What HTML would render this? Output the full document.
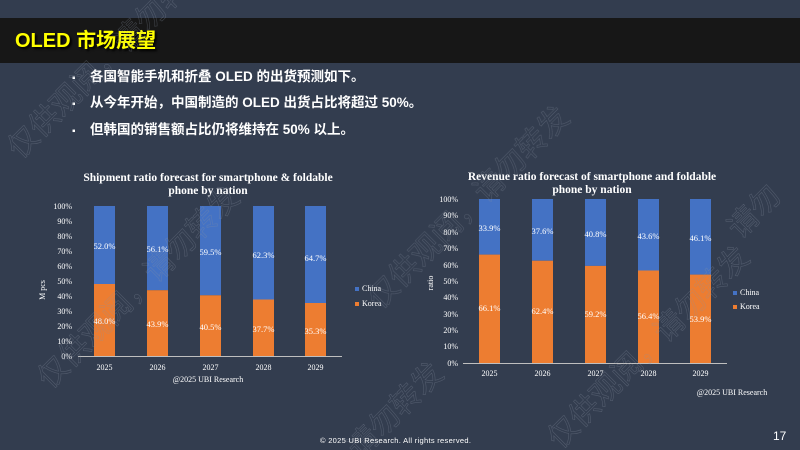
<!DOCTYPE html>
<html><head><meta charset="utf-8"><style>
html,body{margin:0;padding:0}
body{width:800px;height:450px;background:#333d4f;position:relative;overflow:hidden;font-family:"Liberation Sans","Noto Sans CJK SC",sans-serif}
.band{position:absolute;left:0;top:18px;width:800px;height:45px;background:#171717}
.title{position:absolute;left:15px;top:27px;font-size:20px;font-weight:bold;color:#ffff00;text-shadow:2px 2px 2px #000;line-height:28px}
.b{position:absolute;left:72px;font-size:13.5px;font-weight:bold;color:#fff;line-height:18px}
.b span{display:inline-block;width:18px;font-size:10px}
svg{position:absolute;left:0;top:0}
</style></head><body>
<div class="band"></div>
<div class="title">OLED 市场展望</div>
<div class="b" style="top:68px"><span>▪</span>各国智能手机和折叠 OLED 的出货预测如下。</div>
<div class="b" style="top:94px"><span>▪</span>从今年开始，中国制造的 OLED 出货占比将超过 50%。</div>
<div class="b" style="top:121px"><span>▪</span>但韩国的销售额占比仍将维持在 50% 以上。</div>
<svg width="800" height="450" viewBox="0 0 800 450" font-family="Liberation Serif, serif">
<g fill="#fff">
<text x="208" y="181" font-size="11.5" font-weight="bold" text-anchor="middle">Shipment ratio forecast for smartphone &amp; foldable</text>
<text x="208" y="194" font-size="11.5" font-weight="bold" text-anchor="middle">phone by nation</text>
<text x="592" y="180" font-size="11.5" font-weight="bold" text-anchor="middle">Revenue ratio forecast of smartphone and foldable</text>
<text x="592" y="193" font-size="11.5" font-weight="bold" text-anchor="middle">phone by nation</text>
</g>
<!-- chart 1 -->
<g font-size="8" fill="#fff" text-anchor="end">
<text x="72" y="209">100%</text><text x="72" y="224">90%</text><text x="72" y="239">80%</text><text x="72" y="254">70%</text><text x="72" y="269">60%</text><text x="72" y="284">50%</text><text x="72" y="299">40%</text><text x="72" y="314">30%</text><text x="72" y="329">20%</text><text x="72" y="344">10%</text><text x="72" y="359">0%</text>
</g>
<text transform="translate(45,290) rotate(-90)" font-size="8" fill="#fff" text-anchor="middle">M pcs</text>
<g>
<rect x="94" y="206" width="21" height="78" fill="#4472c4"/><rect x="94" y="284" width="21" height="72" fill="#ed7d31"/>
<rect x="147" y="206" width="21" height="84.2" fill="#4472c4"/><rect x="147" y="290.2" width="21" height="65.8" fill="#ed7d31"/>
<rect x="200" y="206" width="21" height="89.3" fill="#4472c4"/><rect x="200" y="295.3" width="21" height="60.7" fill="#ed7d31"/>
<rect x="253" y="206" width="21" height="93.5" fill="#4472c4"/><rect x="253" y="299.5" width="21" height="56.5" fill="#ed7d31"/>
<rect x="305" y="206" width="21" height="97" fill="#4472c4"/><rect x="305" y="303" width="21" height="53" fill="#ed7d31"/>
</g>
<line x1="78" y1="356.5" x2="342" y2="356.5" stroke="#bfbfbf" stroke-width="1"/>
<g font-size="8.5" fill="#fff" text-anchor="middle">
<text x="104.5" y="249">52.0%</text><text x="157.5" y="252">56.1%</text><text x="210.5" y="255">59.5%</text><text x="263.5" y="258">62.3%</text><text x="315.5" y="261">64.7%</text>
<text x="104.5" y="324">48.0%</text><text x="157.5" y="327">43.9%</text><text x="210.5" y="330">40.5%</text><text x="263.5" y="332">37.7%</text><text x="315.5" y="334">35.3%</text>
<text x="104.5" y="370" font-size="8">2025</text><text x="157.5" y="370" font-size="8">2026</text><text x="210.5" y="370" font-size="8">2027</text><text x="263.5" y="370" font-size="8">2028</text><text x="315.5" y="370" font-size="8">2029</text>
<text x="208" y="382" font-size="8">@2025 UBI Research</text>
</g>
<rect x="355" y="287" width="4" height="4" fill="#4472c4"/><text x="362" y="291" font-size="8" fill="#fff">China</text>
<rect x="355" y="302" width="4" height="4" fill="#ed7d31"/><text x="362" y="306" font-size="8" fill="#fff">Korea</text>
<!-- chart 2 -->
<g font-size="8" fill="#fff" text-anchor="end">
<text x="458" y="202">100%</text><text x="458" y="218">90%</text><text x="458" y="235">80%</text><text x="458" y="251">70%</text><text x="458" y="268">60%</text><text x="458" y="284">50%</text><text x="458" y="300">40%</text><text x="458" y="317">30%</text><text x="458" y="333">20%</text><text x="458" y="349">10%</text><text x="458" y="366">0%</text>
</g>
<text transform="translate(433,283) rotate(-90)" font-size="8" fill="#fff" text-anchor="middle">ratio</text>
<g>
<rect x="479" y="199" width="21" height="55.6" fill="#4472c4"/><rect x="479" y="254.6" width="21" height="108.4" fill="#ed7d31"/>
<rect x="532" y="199" width="21" height="61.7" fill="#4472c4"/><rect x="532" y="260.7" width="21" height="102.3" fill="#ed7d31"/>
<rect x="585" y="199" width="21" height="66.9" fill="#4472c4"/><rect x="585" y="265.9" width="21" height="97.1" fill="#ed7d31"/>
<rect x="638" y="199" width="21" height="71.5" fill="#4472c4"/><rect x="638" y="270.5" width="21" height="92.5" fill="#ed7d31"/>
<rect x="690" y="199" width="21" height="75.6" fill="#4472c4"/><rect x="690" y="274.6" width="21" height="88.4" fill="#ed7d31"/>
</g>
<line x1="463" y1="363.5" x2="727" y2="363.5" stroke="#bfbfbf" stroke-width="1"/>
<g font-size="8.5" fill="#fff" text-anchor="middle">
<text x="489.5" y="231">33.9%</text><text x="542.5" y="234">37.6%</text><text x="595.5" y="237">40.8%</text><text x="648.5" y="239">43.6%</text><text x="700.5" y="241">46.1%</text>
<text x="489.5" y="311">66.1%</text><text x="542.5" y="314">62.4%</text><text x="595.5" y="317">59.2%</text><text x="648.5" y="319">56.4%</text><text x="700.5" y="322">53.9%</text>
<text x="489.5" y="376" font-size="8">2025</text><text x="542.5" y="376" font-size="8">2026</text><text x="595.5" y="376" font-size="8">2027</text><text x="648.5" y="376" font-size="8">2028</text><text x="700.5" y="376" font-size="8">2029</text>
</g>
<text x="732" y="395" font-size="8" fill="#fff" text-anchor="middle">@2025 UBI Research</text>
<rect x="733" y="291" width="4" height="4" fill="#4472c4"/><text x="740" y="295" font-size="8" fill="#fff">China</text>
<rect x="733" y="305" width="4" height="4" fill="#ed7d31"/><text x="740" y="309" font-size="8" fill="#fff">Korea</text>
<!-- watermarks -->
<g font-family="Noto Sans CJK SC, sans-serif" font-size="30" fill="none" stroke="#8a93a3" stroke-width="0.6" opacity="0.35">
<text transform="translate(20,160) rotate(-45)">仅供观阅，请勿转发</text>
<text transform="translate(380,310) rotate(-45)">仅供观阅，请勿转发</text>
<text transform="translate(50,390) rotate(-45)">仅供观阅，请勿转发</text>
<text transform="translate(560,450) rotate(-45)">仅供观阅，请勿转发</text>
<text transform="translate(360,460) rotate(-45)">请勿转发</text>
<text transform="translate(740,240) rotate(-45)">请勿</text>
</g>
</svg>
<div style="position:absolute;left:320px;top:436px;font-size:7.5px;color:#fff;letter-spacing:0.3px">© 2025 UBI Research. All rights reserved.</div>
<div style="position:absolute;left:773px;top:429px;font-size:12px;color:#fff">17</div>
</body></html>
